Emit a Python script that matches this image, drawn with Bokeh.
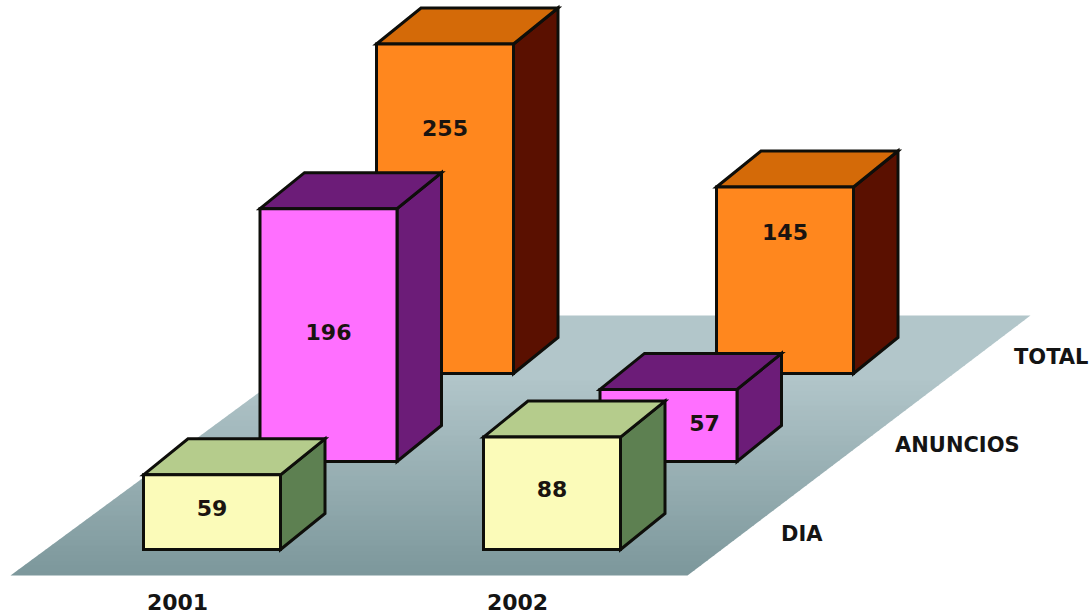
from bokeh.plotting import figure
from bokeh.embed import file_html
from bokeh.resources import INLINE
from bokeh.core.properties import value

years = ["2001", "2002"]
series = ["DIA", "ANUNCIOS", "TOTAL"]
dia = [59, 88]
anuncios = [196, 57]
total = [255, 145]
values = [dia, anuncios, total]

front = ["#fbfbb9", "#ff6fff", "#ff871e"]
top = ["#b5cc8c", "#6c1c78", "#d46a08"]
side = ["#5d8051", "#6c1c78", "#5a1000"]
edge = "#0e0e0a"

# projection (screen pixels)
X0, Y0, YEAR_DX, DEPTH_DX, DEPTH_DY = 143, 549, 340, 116.5, 88
W, SX, SY, UNIT, BASE = 137, 44.5, 36, 1.3, -2
# label drop below the front top edge, and sideways shift
label_drop = [[33, 52], [123, 34], [84, 45]]
label_shift = [[0, 0], [0, 36], [0, 0]]
series_x = [780.5, 894.5, 1013.5]

p = figure(width=1091, height=616, x_range=(0, 1091), y_range=(616, 0),
           output_backend="svg", toolbar_location=None, min_border=0,
           outline_line_color=None, background_fill_color="white",
           border_fill_color="white")
p.axis.visible = False
p.grid.visible = False

# floor with a banded vertical gradient
fy0, fy1 = 575, 315
fl0, fl1 = 10, 363
fr0, fr1 = 687, 1030
c_low = (125, 152, 156)
c_high = (178, 198, 202)
n = 52
for i in range(n):
    a = i / n
    b = (i + 1) / n + 0.003
    ya, yb = fy0 + (fy1 - fy0) * a, fy0 + (fy1 - fy0) * min(b, 1)
    la, lb = fl0 + (fl1 - fl0) * a, fl0 + (fl1 - fl0) * min(b, 1)
    ra, rb = fr0 + (fr1 - fr0) * a, fr0 + (fr1 - fr0) * min(b, 1)
    t = min(a / 0.75, 1)
    col = "#%02x%02x%02x" % tuple(int(l + (h - l) * t) for l, h in zip(c_low, c_high))
    p.patch([la, ra, rb, lb], [ya, ya, yb, yb], fill_color=col, line_color=None)

# bars, back to front
labels = []
for d in (2, 1, 0):
    for y in range(2):
        v = values[d][y]
        x0 = X0 + y * YEAR_DX + d * DEPTH_DX
        x1 = x0 + W
        yb = Y0 - d * DEPTH_DY
        yt = yb - (v * UNIT + BASE)
        for xs, ys, c in (
            ([x1, x1 + SX, x1 + SX, x1], [yt, yt - SY, yb - SY, yb], side[d]),
            ([x0, x0 + SX, x1 + SX, x1], [yt, yt - SY, yt - SY, yt], top[d]),
            ([x0, x1, x1, x0], [yb, yb, yt, yt], front[d]),
        ):
            p.patch(xs, ys, fill_color=c, line_color=edge, line_width=3, line_join="miter")
        labels.append(((x0 + x1) / 2 + label_shift[d][y], yt + label_drop[d][y], str(v)))

font = value("DejaVu Sans")
for lx, ly, s in labels:
    p.text([lx], [ly], text=[s], text_font=font, text_font_size="22px", text_font_style="bold",
           text_color="#1a1410", text_align="center", text_baseline="middle")

for i, yr in enumerate(years):
    p.text([177 + i * YEAR_DX], [601], text=[yr], text_font=font, text_font_size="22px",
           text_font_style="bold", text_color="#141414", text_align="center", text_baseline="middle")

for i, s in enumerate(series):
    p.text([series_x[i]], [533 - i * 88.5], text=[s], text_font=font, text_font_size="21px",
           text_font_style="bold", text_color="#141414", text_align="left", text_baseline="middle")

open("out.html", "w").write(file_html(p, INLINE))
